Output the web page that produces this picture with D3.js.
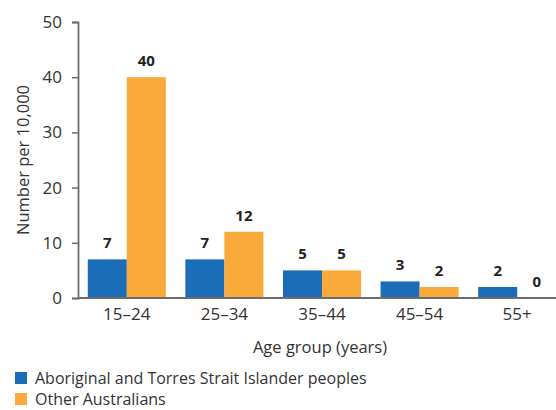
<!DOCTYPE html>
<html><head><meta charset="utf-8">
<script src="https://cdn.jsdelivr.net/npm/d3@7"></script>
<style>body{margin:0;background:#fff}svg{display:block}text{font-family:"Open Sans",sans-serif}</style>
</head><body>
<svg id="c" width="556" height="410"></svg>
<script>
const categories = ["15–24","25–34","35–44","45–54","55+"];
const seriesNames = ["Aboriginal and Torres Strait Islander peoples","Other Australians"];
const indigenous = [7,7,5,3,2];
const others = [40,12,5,2,0];
const yTicks = [0,10,20,30,40,50];
const colors = ["#1a6db6","#f9aa3b"];

const svg = d3.select("#c");
const m = {left:78, top:22, right:566, bottom:298};
const x = d3.scaleBand().domain(categories).range([m.left, m.right]).paddingInner(0.2).paddingOuter(0.1);
const xs = d3.scaleBand().domain([0,1]).range([0, x.bandwidth()]);
const y = d3.scaleLinear().domain([0,50]).range([m.bottom, m.top]);

// y axis
const ya = svg.append("g").attr("transform",`translate(${m.left},0)`)
  .call(d3.axisLeft(y).tickValues(yTicks).tickSize(6).tickPadding(10));
ya.select(".domain").attr("stroke","#6d6d6d").attr("stroke-width",1.8);
ya.selectAll(".tick line").attr("stroke","#6d6d6d").attr("stroke-width",1.5);
ya.selectAll(".tick text").attr("font-size",17).attr("fill","#333").style("font-family","'Open Sans',sans-serif");

const data = [indigenous, others];
categories.forEach((c,i)=>{
  data.forEach((s,j)=>{
    const v = s[i];
    const bx = x(c)+xs(j);
    svg.append("rect").attr("x",bx).attr("y",y(v)).attr("width",xs.bandwidth()).attr("height",y(0)-y(v)).attr("fill",colors[j]);
    svg.append("text").attr("x",bx+xs.bandwidth()/2).attr("y",y(v)-11).attr("text-anchor","middle")
      .attr("font-size",15).attr("font-weight","bold").attr("fill","#222").text(v);
  });
});

// x axis
const xa = svg.append("g").attr("transform",`translate(0,${m.bottom})`)
  .call(d3.axisBottom(x).tickSize(0).tickPadding(10));
xa.select(".domain").attr("stroke","#6d6d6d").attr("stroke-width",1.8).attr("d",`M${m.left},0H556`);
xa.selectAll(".tick text").attr("font-size",17).attr("fill","#333").style("font-family","'Open Sans',sans-serif");

svg.append("text").attr("x",320).attr("y",353).attr("text-anchor","middle").attr("font-size",16.5).attr("fill","#333").text("Age group (years)");
svg.append("text").attr("transform","translate(29,160) rotate(-90)").attr("text-anchor","middle").attr("font-size",16.5).attr("fill","#333").text("Number per 10,000");

seriesNames.forEach((n,j)=>{
  const yy = 372 + j*21;
  svg.append("rect").attr("x",15).attr("y",yy).attr("width",12).attr("height",12).attr("fill",colors[j]);
  svg.append("text").attr("x",35).attr("y",yy+12).attr("font-size",16).attr("fill","#333").text(n);
});
</script>
</body></html>
